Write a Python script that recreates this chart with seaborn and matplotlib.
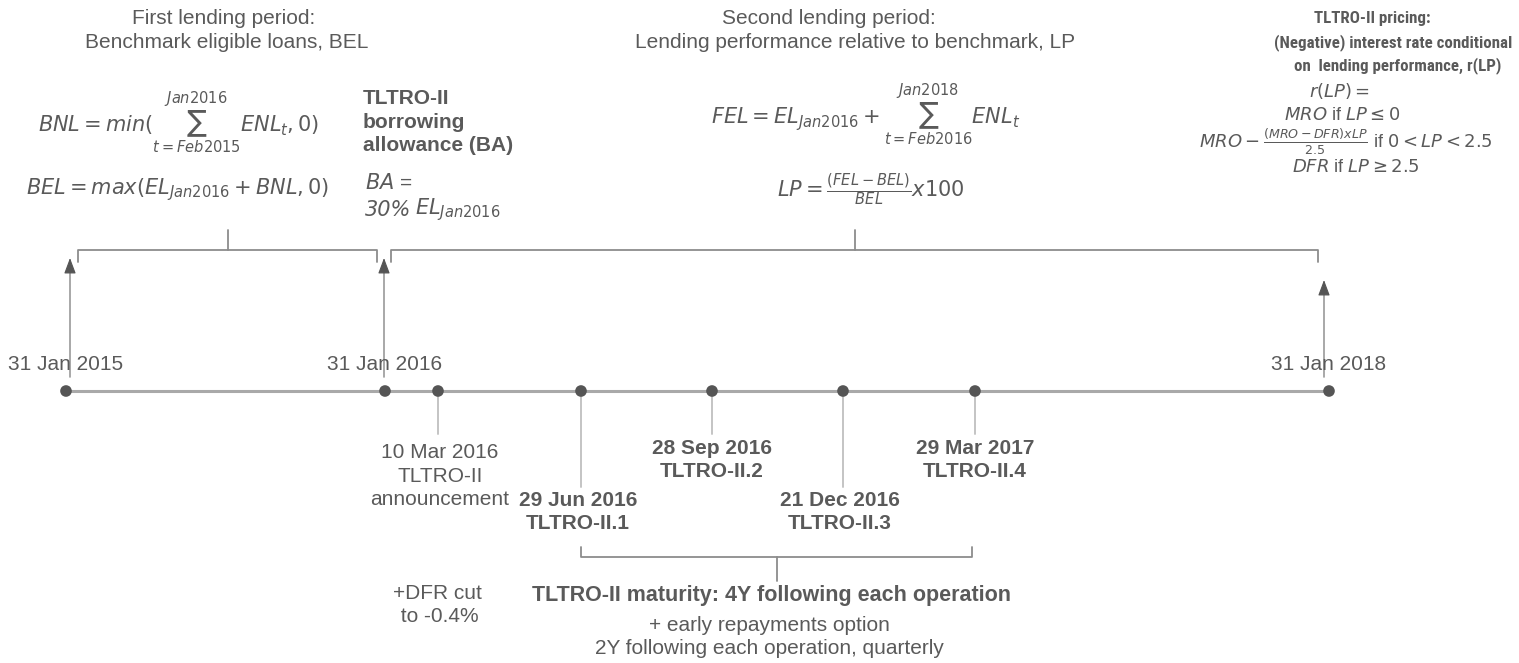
import matplotlib
matplotlib.use("Agg")
import matplotlib.pyplot as plt
from matplotlib import font_manager as fm
import seaborn as sns
import pandas as pd

# timeline events (x = position along the drawn timeline)
event_x = [66, 385, 438, 581, 712, 843, 975, 1329]
event_labels = ["31 Jan 2015", "31 Jan 2016", "10 Mar 2016\nTLTRO-II\nannouncement",
                "29 Jun 2016\nTLTRO-II.1", "28 Sep 2016\nTLTRO-II.2",
                "21 Dec 2016\nTLTRO-II.3", "29 Mar 2017\nTLTRO-II.4", "31 Jan 2018"]
event_side = ["above", "above", "below", "below_far", "below", "below_far", "below", "above"]
event_bold = [False, False, False, True, True, True, True, False]

pricing_lines = ["TLTRO-II pricing:", "(Negative) interest rate conditional",
                 "on  lending performance, r(LP)"]
rate_lines = [r"$r(LP) =$", r"$MRO$ if $LP \leq 0$",
              r"$MRO - \frac{(MRO-DFR)xLP}{2.5}$ if $0 < LP < 2.5$",
              r"$DFR$ if $LP \geq 2.5$"]

TXT = "#5a5a5a"
LINE = "#8c8c8c"
LIGHT = "#c4c4c4"

sns.set_theme(style="white")
plt.rcParams["font.family"] = ["Liberation Sans", "DejaVu Sans"]
plt.rcParams["mathtext.fontset"] = "dejavusans"

# a narrow face for the squeezed pricing header, if one is around
installed = {f.name for f in fm.fontManager.ttflist}
narrow = next((n for n in ["Liberation Sans Narrow", "Arial Narrow", "Roboto Condensed",
                           "Open Sans Condensed"] if n in installed), "Liberation Sans")

fig = plt.figure(figsize=(15.19, 6.63), dpi=100)
ax = fig.add_axes([0, 0, 1, 1])
ax.set_xlim(0, 1519)
ax.set_ylim(663, 0)
ax.axis("off")
renderer = fig.canvas.get_renderer()

events = pd.DataFrame({"x": event_x, "y": 391, "label": event_labels,
                       "side": event_side, "bold": event_bold})

# main timeline
sns.lineplot(data=events, x="x", y="y", color="#a9a9a9", lw=2.2, ax=ax, zorder=1)

# connectors to labels below
for _, r in events.iterrows():
    if r.side == "below":
        ax.plot([r.x, r.x], [391, 434], color=LIGHT, lw=1.4, zorder=0)
    elif r.side == "below_far":
        ax.plot([r.x, r.x], [391, 487], color=LIGHT, lw=1.4, zorder=0)

sns.scatterplot(data=events, x="x", y="y", color="#555555", s=70,
                edgecolor="none", ax=ax, zorder=3, legend=False)

fs = 15
for _, r in events.iterrows():
    w = "bold" if r.bold else "normal"
    if r.side == "above":
        ax.text(r.x, 365, r.label, ha="center", va="center", fontsize=fs, color=TXT)
    elif r.side == "below":
        yc = 476 if not r.bold else 460
        ax.text(r.x + (2 if not r.bold else 0), yc, r.label, ha="center", va="center",
                fontsize=fs, color=TXT, fontweight=w, linespacing=1.28)
    else:
        ax.text(r.x - 3, 512, r.label, ha="center", va="center", fontsize=fs,
                color=TXT, fontweight=w, linespacing=1.28)

# arrows up from the period limits
for x0, top in [(70, 258), (384, 258), (1324, 280)]:
    ax.plot([x0, x0], [377, top + 8], color="#9a9a9a", lw=1.2, zorder=2)
    ax.annotate("", xy=(x0, top), xytext=(x0, top + 12),
                arrowprops=dict(arrowstyle="-|>,head_length=0.8,head_width=0.3",
                                color="#555555", lw=0.8, shrinkA=0, shrinkB=0))


def bracket(x0, x1, y, tip, end):
    ax.plot([x0, x0, x1, x1], [end, y, y, end], color=LINE, lw=1.3)
    xm = (x0 + x1) / 2
    ax.plot([xm, xm], [y, tip], color=LINE, lw=1.3)


bracket(78, 377, 250, 230, 262)
bracket(391, 1318, 250, 230, 262)
bracket(581, 972, 557, 581, 547)

# period headers
ax.text(224, 18, "First lending period:", ha="center", va="center", fontsize=fs, color=TXT)
ax.text(227, 43, "Benchmark eligible loans, BEL", ha="center", va="center", fontsize=fs, color=TXT)
ax.text(829, 18, "Second lending period:", ha="center", va="center", fontsize=fs, color=TXT)
ax.text(855, 43, "Lending performance relative to benchmark, LP", ha="center", va="center",
        fontsize=fs, color=TXT)

# pricing header: one size for all three lines, sized so the widest fits the corner
hdr = [ax.text(xc, yc, s, ha="center", va="center", fontsize=15, color=TXT,
               fontweight="bold", family=[narrow, "Liberation Sans"])
       for s, xc, yc in zip(pricing_lines, [1372, 1393, 1398], [18, 43, 66])]
widest = max(t.get_window_extent(renderer).width for t in hdr)
hsize = min(15, 15 * 238 / widest)
for t in hdr:
    t.set_fontsize(hsize)

# formulas
mfs = 15
ax.text(179, 123, r"$BNL = min(\sum_{t=Feb2015}^{Jan2016} ENL_t, 0)$", ha="center",
        va="center", fontsize=mfs, color=TXT)
ax.text(178, 190, r"$BEL = max(EL_{Jan2016} + BNL, 0)$", ha="center", va="center",
        fontsize=mfs, color=TXT)
ax.text(363, 122, "TLTRO-II\nborrowing\nallowance (BA)", ha="left", va="center", fontsize=fs,
        color=TXT, fontweight="bold", linespacing=1.28)
ax.text(365, 183, r"$BA$ =", ha="left", va="center", fontsize=mfs, color=TXT)
ax.text(365, 210, "30%", ha="left", va="center", fontsize=mfs, color=TXT,
        family="DejaVu Sans", fontstyle="italic")
ax.text(415, 210, r"$EL_{Jan2016}$", ha="left", va="center", fontsize=mfs, color=TXT)
ax.text(866, 115, r"$FEL = EL_{Jan2016} + \sum_{t=Feb2016}^{Jan2018} ENL_t$", ha="center",
        va="center", fontsize=mfs, color=TXT)
ax.text(871, 190, r"$LP = \frac{(FEL-BEL)}{BEL} x100$", ha="center", va="center",
        fontsize=mfs, color=TXT)
for s, xc, yc in zip(rate_lines, [1339, 1342, 1346, 1356], [91, 116, 142, 168]):
    ax.text(xc, yc, s, ha="center", va="center", fontsize=13, color=TXT)

# notes below
ax.text(437, 605, "+DFR cut\n to -0.4%", ha="center", va="center", fontsize=fs, color=TXT,
        linespacing=1.28)
ax.text(772, 595, "TLTRO-II maturity: 4Y following each operation", ha="center", va="center",
        fontsize=15.5, color=TXT, fontweight="bold")
ax.text(769, 637, "+ early repayments option\n2Y following each operation, quarterly",
        ha="center", va="center", fontsize=fs, color=TXT, linespacing=1.28)

fig.savefig("out.png", dpi=100)
